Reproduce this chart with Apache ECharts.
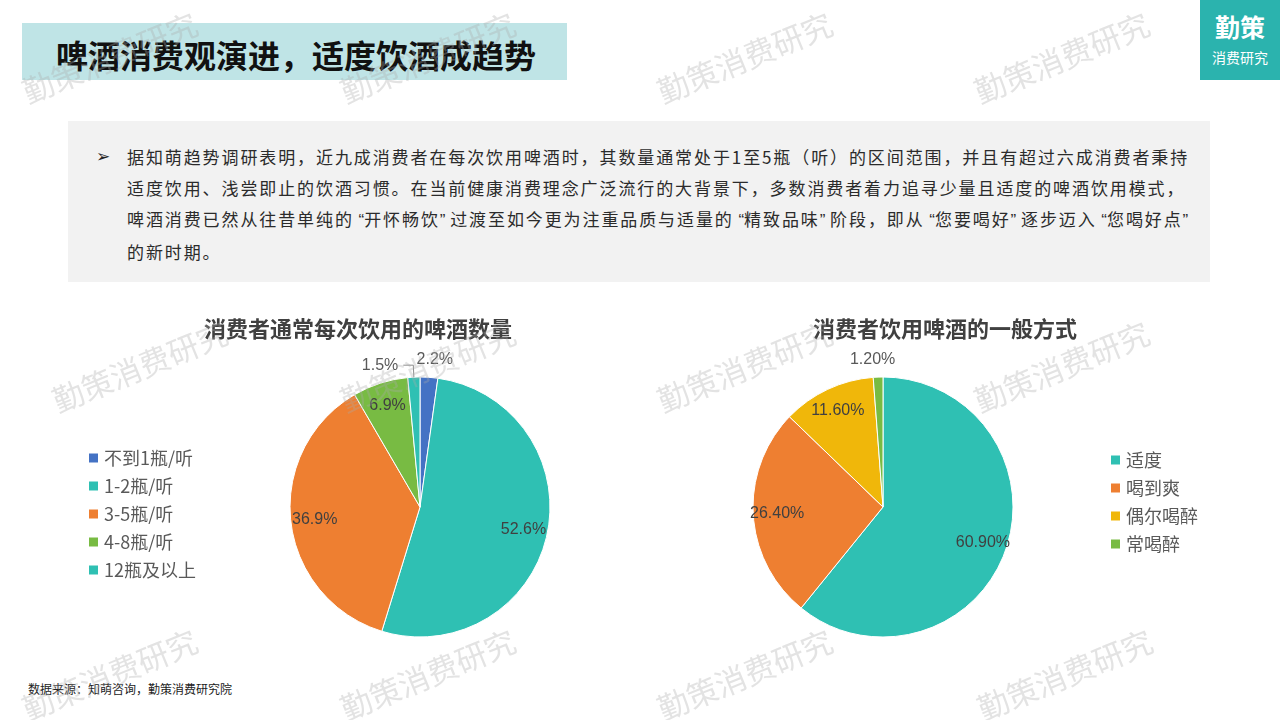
<!DOCTYPE html>
<html><head><meta charset="utf-8">
<script src="https://cdn.jsdelivr.net/npm/echarts@6/dist/echarts.min.js"></script>
<style>
html,body{margin:0;padding:0;width:1280px;height:720px;background:#fff;overflow:hidden;font-family:"Noto Sans CJK SC","Noto Sans",sans-serif;}
#head{position:absolute;left:22px;top:23px;width:545px;height:57px;background:#bfe4e6;}
#head span{position:absolute;left:34px;top:11px;font-size:32px;font-weight:bold;color:#111;line-height:40px;white-space:nowrap;}
#logo{position:absolute;left:1200px;top:0;width:80px;height:80px;background:#2bb3ae;color:#fff;text-align:center;}
#logo .a{position:absolute;left:0;width:80px;top:11px;font-size:25px;font-weight:bold;line-height:30px;}
#logo .b{position:absolute;left:0;width:80px;top:47px;font-size:14px;line-height:20px;}
#box{position:absolute;left:68px;top:121px;width:1142px;height:161px;background:#f2f2f2;}
#arrow{position:absolute;left:96px;top:141px;font-size:17px;line-height:31px;color:#222;font-family:"DejaVu Sans";}
#txt{position:absolute;left:127px;top:141px;font-size:17px;letter-spacing:1.9px;line-height:31px;color:#2b2b2b;white-space:nowrap;}
#txt .q{font-family:"Liberation Sans";letter-spacing:0;}
#src{position:absolute;left:28px;top:680px;font-size:12px;line-height:18px;color:#222;}
#chart{position:absolute;left:0;top:0;width:1280px;height:720px;}
</style></head>
<body>
<div id="head"><span>啤酒消费观演进，适度饮酒成趋势</span></div>
<div id="logo"><div class="a">勤策</div><div class="b">消费研究</div></div>
<div id="box"></div>
<div id="arrow">➢</div>
<div id="txt">据知萌趋势调研表明，近九成消费者在每次饮用啤酒时，其数量通常处于1至5瓶（听）的区间范围，并且有超过六成消费者秉持<br>适度饮用、浅尝即止的饮酒习惯。在当前健康消费理念广泛流行的大背景下，多数消费者着力追寻少量且适度的啤酒饮用模式，<br>啤酒消费已然从往昔单纯的<span class="q"> “</span>开怀畅饮<span class="q">” </span>过渡至如今更为注重品质与适量的<span class="q"> “</span>精致品味<span class="q">” </span>阶段，即从<span class="q"> “</span>您要喝好<span class="q">” </span>逐步迈入<span class="q"> “</span>您喝好点<span class="q">”</span><br>的新时期。</div>
<div id="src">数据来源：知萌咨询，勤策消费研究院</div>
<div id="chart"></div>
<script>
// ---- data ----
const leftTitle = '消费者通常每次饮用的啤酒数量';
const leftCategories = ['不到1瓶/听', '1-2瓶/听', '3-5瓶/听', '4-8瓶/听', '12瓶及以上'];
const leftValues = [2.2, 52.6, 36.9, 6.9, 1.5];
const rightTitle = '消费者饮用啤酒的一般方式';
const rightCategories = ['适度', '喝到爽', '偶尔喝醉', '常喝醉'];
const rightValues = [60.9, 26.4, 11.6, 1.2];
const watermarkText = '勤策消费研究';

// ---- styles ----
const leftColors = ['#4472c4', '#2fc0b3', '#ee7f31', '#78bb43', '#2fc0b3'];
const rightColors = ['#2fc0b3', '#ee7f31', '#f0b70a', '#78bb43'];
const labelFont = {fontFamily: 'Liberation Sans', fontSize: 16, color: '#404040'};

const chart = echarts.init(document.getElementById('chart'), null, {renderer: 'canvas'});

function mainData(cats, vals, colors) {
  return cats.map((c, i) => ({name: c, value: vals[i], itemStyle: {color: colors[i]}}));
}
function labelData(cats, vals, outsideCfg) {
  return cats.map((c, i) => {
    const small = vals[i] < 3;
    const d = {name: c, value: vals[i], itemStyle: {color: 'transparent', borderWidth: 0}};
    if (small) {
      const cfg = outsideCfg(i);
      d.label = Object.assign({position: 'outside', color: '#595959'}, cfg.label || {});
      d.labelLine = cfg.labelLine;
    } else {
      d.label = {position: 'inside'};
    }
    return d;
  });
}

const leftCenter = [420, 507], rightCenter = [883, 507], R = 130;

const watermarks = [];
[[110, 58], [428, 58], [745, 58], [1062, 58],
 [140, 367], [428, 367], [745, 367], [1062, 367],
 [110, 675], [428, 675], [745, 675], [1065, 675]].forEach(p => {
  watermarks.push({
    type: 'text', x: p[0], y: p[1], rotation: 0.39, z: 100, silent: true,
    style: {text: watermarkText, fontSize: 31, fontFamily: 'Noto Sans CJK SC',
      fill: 'rgba(170,170,170,0.33)', align: 'center', verticalAlign: 'middle'}
  });
});

const titleStyle = {fontSize: 22, fontWeight: 'bold', color: '#404040', fontFamily: 'Noto Sans CJK SC'};
const legendText = {fontSize: 18, color: '#595959', fontFamily: 'Noto Sans CJK SC'};

chart.setOption({
  animation: false,
  title: [
    {text: leftTitle, left: 353, top: 313, textAlign: 'center', textStyle: titleStyle},
    {text: rightTitle, left: 940, top: 313, textAlign: 'center', textStyle: titleStyle}
  ],
  legend: [
    {data: leftCategories, orient: 'vertical', left: 82, top: 444, icon: 'rect',
      itemWidth: 11, itemHeight: 11, itemGap: 10, selectedMode: false, textStyle: legendText},
    {data: rightCategories, orient: 'vertical', left: 1104, top: 446, icon: 'rect',
      itemWidth: 11, itemHeight: 11, itemGap: 10, selectedMode: false, textStyle: legendText}
  ],
  graphic: watermarks,
  series: [
    {type: 'pie', center: leftCenter, radius: [0, R], startAngle: 90, clockwise: true,
      silent: true, label: {show: false}, labelLine: {show: false},
      itemStyle: {borderColor: '#fff', borderWidth: 1},
      data: mainData(leftCategories, leftValues, leftColors)},
    {type: 'pie', center: rightCenter, radius: [0, R], startAngle: 90, clockwise: true,
      silent: true, label: {show: false}, labelLine: {show: false},
      itemStyle: {borderColor: '#fff', borderWidth: 1},
      data: mainData(rightCategories, rightValues, rightColors)},
    {type: 'pie', center: leftCenter, radius: [76, R], startAngle: 90, clockwise: true,
      silent: true, z: 5, avoidLabelOverlap: false,
      label: Object.assign({show: true, formatter: p => p.value.toFixed(1) + '%'}, labelFont),
      labelLine: {show: true, lineStyle: {color: '#8c8c8c', width: 1}},
      labelLayout: function (p) {
        if (p.dataIndex === 0) return {align: 'center', verticalAlign: 'bottom', dy: 2};
      },
      data: labelData(leftCategories, leftValues, i => i === 0
        ? {labelLine: {show: false, length: 12, length2: 0}}
        : {labelLine: {show: true, length: 12, length2: 10}, label: {verticalAlign: 'bottom'}})},
    {type: 'pie', center: rightCenter, radius: [76, R], startAngle: 90, clockwise: true,
      silent: true, z: 5, avoidLabelOverlap: false,
      label: Object.assign({show: true, formatter: p => p.value.toFixed(2) + '%'}, labelFont),
      labelLine: {show: false},
      labelLayout: function (p) {
        if (p.dataIndex === 3) return {align: 'center', verticalAlign: 'bottom', dy: 2};
      },
      data: labelData(rightCategories, rightValues, i => ({labelLine: {show: false, length: 12, length2: 0}}))}
  ]
});
</script>
</body></html>
